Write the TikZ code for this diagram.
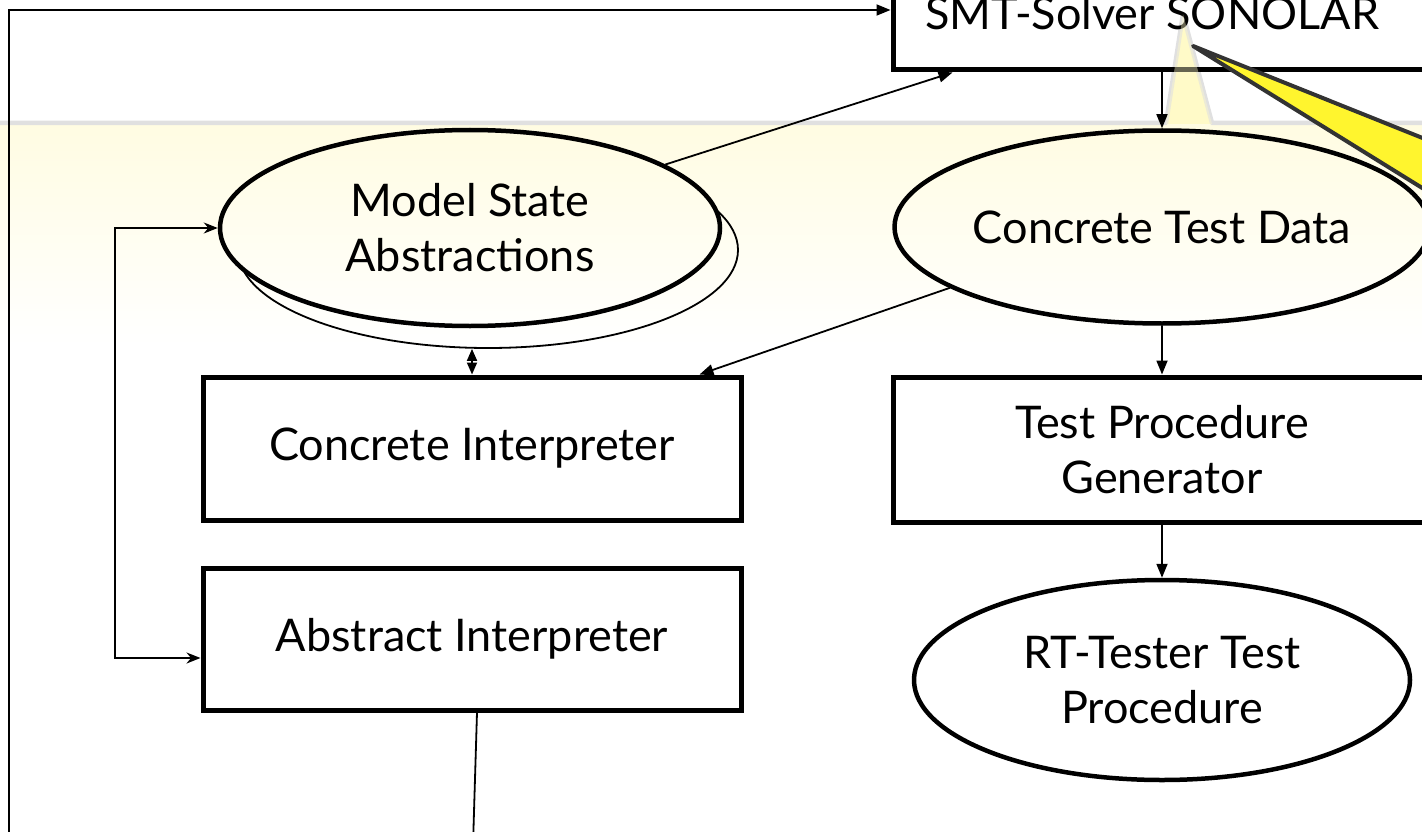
\documentclass[tikz,border=0pt]{standalone}
\usepackage{fontspec}
\setmainfont{Lato}
\usetikzlibrary{arrows.meta,calc,shapes.geometric}
\definecolor{bandyellow}{HTML}{FFFCE2}
\definecolor{bandgray}{HTML}{E0E0E0}
\definecolor{conefill}{HTML}{FFFAC8}
\definecolor{wedgefill}{HTML}{FFF52E}
\definecolor{wedgeline}{HTML}{333333}
\begin{document}
\begin{tikzpicture}[x=1pt,y=-1pt,
  every node/.style={font=\fontsize{45}{55}\selectfont, align=center, inner sep=0pt},
  box/.style={draw, line width=5pt, rectangle},
  oval/.style={draw, line width=4.5pt, ellipse},
  conn/.style={line width=1.8pt},
  arr/.style={conn, -{Triangle[length=14pt,width=11pt]}},
  darr/.style={conn, {Triangle[length=12pt,width=10pt]}-{Triangle[length=12pt,width=10pt]}},
  larr/.style={conn, {Stealth[length=14pt,width=11pt]}-{Stealth[length=14pt,width=11pt]}},
  bandline/.style={draw=bandgray, line width=4.5pt, line join=round},
]
\useasboundingbox (0,0) rectangle (1422,832);
\clip (0,0) rectangle (1422,832);

% background band (callout fading to white)
\shade[top color=bandyellow, bottom color=white] (-5,124) rectangle (1430,345);
\fill[conefill] (1166,124) -- (1183,14) -- (1212,124) -- cycle;
\draw[bandline] (-5,123) -- (1166,123) -- (1183,14) -- (1212,123) -- (1430,123);

% nodes
\node[box, minimum width=547pt, minimum height=120pt] (smt) at (1166.5,10) {};
\node (smtlabel) at (1152,13) {SMT-Solver SONOLAR};

\begin{scope}[even odd rule]
  \clip (-10,-10) rectangle (1440,850) (470,228) ellipse [x radius=250pt, y radius=98pt];
  \node[oval, line width=1.8pt, minimum width=500pt, minimum height=196pt] (msb) at (488,250) {};
\end{scope}
\node[oval, minimum width=500pt, minimum height=196pt] (msa) at (470,228) {Model State\\Abstractions};

\node[box, minimum width=538pt, minimum height=143pt] (ci) at (472,448.5) {Concrete Interpreter};
\node[box, minimum width=538pt, minimum height=142pt] (ai) at (472,639) {Abstract Interpreter};

\node[oval, minimum width=496pt, minimum height=193pt] (ctd) at (1162,227) {Concrete Test Data};
\node[box, minimum width=538pt, minimum height=145pt] (tpg) at (1162,449.5) {Test Procedure\\Generator};
\node[oval, minimum width=496pt, minimum height=200pt] (rt) at (1162,680) {RT-Tester Test\\Procedure};

% connectors
\coordinate (leftbottom) at (9,845);
\coordinate (lefttop) at (9,10);
\draw[arr] (leftbottom) -- (lefttop) -- (smt.west);

\draw[arr] (msa.18) -- ($(smt.south west)+(62,0)$);
\draw[darr] (ci.north |- msb.south) -- (ci.north);

\coordinate (lt) at (115,228);
\coordinate (lb) at (115,658);
\draw[larr] (msa.west) -- (lt) -- (lb) -- (ai.west |- lb);

\coordinate (bottomend) at (473,845);
\draw[conn] ($(ai.south)+(5,0)$) -- (bottomend);

\draw[arr] (ctd.196) -- ($(ci.north east)+(-44,0)$);
\draw[arr] (ctd.north |- smt.south) -- (ctd.north);
\draw[arr] (ctd.south) -- (tpg.north);
\draw[arr] (tpg.south) -- (rt.north);

% spotlight cone over the solver box
\fill[conefill, opacity=0.4] (1166,124) -- (1183,14) -- (1212,124) -- cycle;

% yellow callout pointer
\draw[fill=wedgefill, draw=wedgeline, line width=4pt, line join=round] (1193,46) -- (1440,145) -- (1440,199) -- cycle;
\end{tikzpicture}
\end{document}
